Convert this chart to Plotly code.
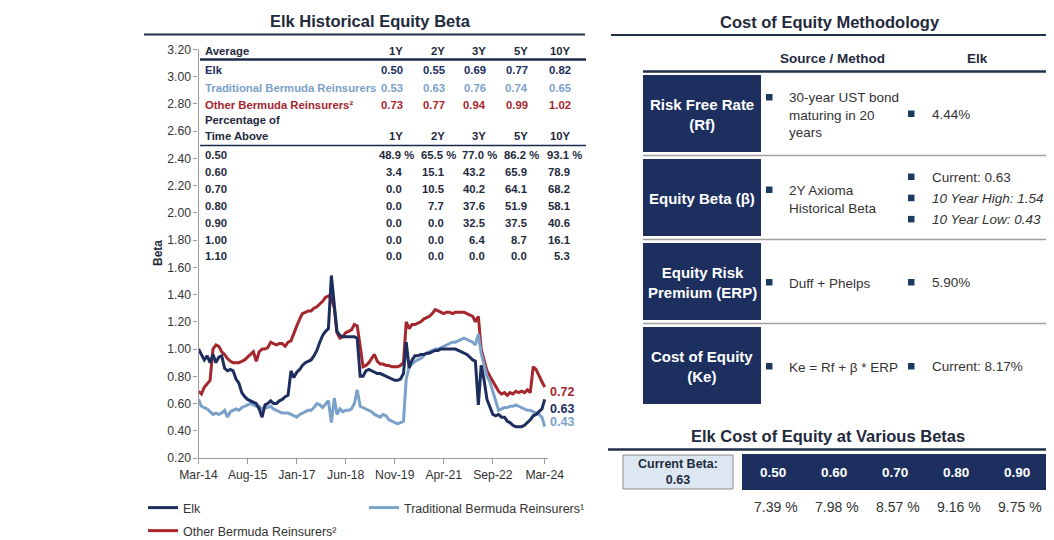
import plotly.graph_objects as go
import pandas as pd

# page is 1054x540; the browser puts the figure 8px in from the top-left corner
W, H = 1054, 540
OFF = 8
FW, FH = W - OFF, H - OFF
FONT = "Liberation Sans, Arial, sans-serif"

# ---- beta history (monthly, Mar-14 .. Mar-24) ----
dates = pd.date_range("2014-03-01", periods=121, freq="MS")

elk = [
    1.00, 0.96, 0.92, 0.95, 0.90, 0.96, 0.90, 0.94, 0.95, 0.86, 0.84, 0.85,
    0.84, 0.78, 0.75, 0.68, 0.65, 0.63, 0.62, 0.61, 0.60, 0.56, 0.50, 0.59,
    0.60, 0.62, 0.60, 0.60, 0.62, 0.63, 0.65, 0.66, 0.84, 0.79, 0.83, 0.85,
    0.88, 0.90, 0.91, 0.92, 0.95, 0.99, 1.05, 1.10, 1.13, 1.15, 1.54, 1.30,
    1.13, 1.10, 1.09, 1.09, 1.09, 1.09, 1.09, 1.08, 0.80, 0.80, 0.84, 0.85,
    0.84, 0.83, 0.82, 0.82, 0.81, 0.80, 0.79, 0.78, 0.77, 0.77, 0.78, 0.82,
    1.05, 0.86, 0.92, 0.95, 0.95, 0.96, 0.96, 0.97, 0.97, 0.98, 0.99, 0.99,
    1.00, 1.00, 1.00, 1.00, 1.00, 1.00, 0.99, 0.98, 0.97, 0.96, 0.94, 0.92,
    0.91, 0.59, 0.88, 0.77, 0.63, 0.58, 0.52, 0.51, 0.52, 0.50, 0.50, 0.47,
    0.46, 0.44, 0.43, 0.43, 0.43, 0.44, 0.46, 0.48, 0.51, 0.52, 0.54, 0.56,
    0.63,
]

trad = [
    0.63, 0.58, 0.57, 0.56, 0.54, 0.52, 0.53, 0.52, 0.53, 0.55, 0.50, 0.54,
    0.55, 0.56, 0.55, 0.57, 0.58, 0.59, 0.60, 0.59, 0.58, 0.58, 0.56, 0.57,
    0.57, 0.58, 0.56, 0.55, 0.54, 0.53, 0.53, 0.53, 0.52, 0.51, 0.50, 0.52,
    0.53, 0.54, 0.55, 0.55, 0.57, 0.60, 0.59, 0.57, 0.60, 0.62, 0.46, 0.64,
    0.52, 0.56, 0.54, 0.55, 0.55, 0.56, 0.60, 0.70, 0.58, 0.57, 0.56, 0.55,
    0.54, 0.52, 0.51, 0.50, 0.52, 0.51, 0.48, 0.47, 0.46, 0.45, 0.46, 0.47,
    0.78, 0.87, 0.89, 0.91, 0.92, 0.93, 0.95, 0.97, 0.98, 0.99, 1.00, 1.00,
    1.01, 1.02, 1.03, 1.04, 1.05, 1.05, 1.06, 1.07, 1.08, 1.07, 1.06, 1.05,
    1.03, 1.11, 0.97, 0.89, 0.80, 0.76, 0.68, 0.62, 0.55, 0.56, 0.57, 0.57,
    0.58, 0.58, 0.59, 0.58, 0.57, 0.56, 0.55, 0.55, 0.54, 0.53, 0.52, 0.50,
    0.43,
]

other = [
    0.69, 0.67, 0.72, 0.75, 0.77, 1.00, 1.03, 1.02, 0.98, 0.96, 0.93, 0.91,
    0.90, 0.90, 0.90, 0.91, 0.92, 0.94, 0.96, 0.98, 0.91, 0.98, 1.00, 1.00,
    1.01, 1.05, 1.04, 1.03, 1.04, 1.04, 1.02, 1.05, 1.06, 1.12, 1.17, 1.22,
    1.26, 1.27, 1.28, 1.28, 1.30, 1.31, 1.33, 1.35, 1.38, 1.39, 1.37, 1.30,
    1.12, 1.08, 1.09, 1.12, 1.13, 1.14, 1.18, 1.17, 1.02, 0.87, 0.88, 0.90,
    0.93, 0.96, 0.91, 0.89, 0.89, 0.88, 0.88, 0.87, 0.87, 0.87, 0.88, 0.90,
    1.20, 1.15, 1.18, 1.18, 1.19, 1.20, 1.22, 1.23, 1.24, 1.26, 1.29, 1.28,
    1.27, 1.26, 1.27, 1.27, 1.26, 1.27, 1.27, 1.27, 1.27, 1.26, 1.25, 1.24,
    1.20, 1.24, 1.00, 0.92, 0.84, 0.80, 0.76, 0.72, 0.69, 0.67, 0.68, 0.66,
    0.68, 0.67, 0.69, 0.68, 0.69, 0.68, 0.70, 0.68, 0.87, 0.85, 0.80, 0.76,
    0.72,
]

tick_dates = ["2014-03-01", "2015-08-01", "2017-01-01", "2018-06-01",
              "2019-11-01", "2021-04-01", "2022-09-01", "2024-03-01"]
y_ticks = [0.20, 0.40, 0.60, 0.80, 1.00, 1.20, 1.40, 1.60, 1.80, 2.00,
           2.20, 2.40, 2.60, 2.80, 3.00, 3.20]

# ---- table inside the chart ----
periods = ["1Y", "2Y", "3Y", "5Y", "10Y"]
avg_elk = [0.50, 0.55, 0.69, 0.77, 0.82]
avg_trad = [0.53, 0.63, 0.76, 0.74, 0.65]
avg_other = [0.73, 0.77, 0.94, 0.99, 1.02]
thresholds = [0.50, 0.60, 0.70, 0.80, 0.90, 1.00, 1.10]
pct_above = [
    [48.9, 65.5, 77.0, 86.2, 93.1],
    [3.4, 15.1, 43.2, 65.9, 78.9],
    [0.0, 10.5, 40.2, 64.1, 68.2],
    [0.0, 7.7, 37.6, 51.9, 58.1],
    [0.0, 0.0, 32.5, 37.5, 40.6],
    [0.0, 0.0, 6.4, 8.7, 16.1],
    [0.0, 0.0, 0.0, 0.0, 5.3],
]

# ---- methodology panel ----
method_names = ["Risk Free Rate<br>(Rf)", "Equity Beta (β)",
                "Equity Risk<br>Premium (ERP)", "Cost of Equity<br>(Ke)"]
method_sources = ["30-year UST bond<br>maturing in 20<br>years",
                  "2Y Axioma<br>Historical Beta",
                  "Duff + Phelps",
                  "Ke = Rf + β * ERP"]
method_elk = [["4.44%"],
              ["Current: 0.63", "<i>10 Year High: 1.54</i>", "<i>10 Year Low: 0.43</i>"],
              ["5.90%"],
              ["Current: 8.17%"]]

current_beta = 0.63
sens_betas = [0.50, 0.60, 0.70, 0.80, 0.90]
sens_coe = [7.39, 7.98, 8.57, 9.16, 9.75]

C_ELK = "#1c2d5e"
C_TRAD = "#7ba1cb"
C_OTHER = "#a5262d"
C_NAVY = "#1c2f5e"
C_TXT = "#1f2a3c"
C_GRAY = "#333333"


def fx(px):
    return (px - OFF) / FW


def fy(py):
    return 1 - (py - OFF) / FH


fig = go.Figure()
fig.add_trace(go.Scatter(x=dates, y=other, mode="lines", name="Other Bermuda Reinsurers²",
                         line=dict(color=C_OTHER, width=3), legend="legend3", showlegend=True))
fig.add_trace(go.Scatter(x=dates, y=trad, mode="lines", name="Traditional Bermuda Reinsurers¹",
                         line=dict(color=C_TRAD, width=3), legend="legend2", showlegend=True))
fig.add_trace(go.Scatter(x=dates, y=elk, mode="lines", name="Elk",
                         line=dict(color=C_ELK, width=3), legend="legend", showlegend=True))

ann = []
shapes = []


def text(x, y, s, size=12, color=C_TXT, bold=False, xanchor="center", yanchor="middle", align="center", **kw):
    if bold:
        s = "<b>" + s.replace("<br>", "</b><br><b>") + "</b>"
    ann.append(dict(x=fx(x), y=fy(y), xref="paper", yref="paper", text=s, showarrow=False,
                    xanchor=xanchor, yanchor=yanchor, align=align,
                    font=dict(family=FONT, size=size, color=color), **kw))


def hline(x0, x1, y, color, width):
    shapes.append(dict(type="line", xref="paper", yref="paper", x0=fx(x0), x1=fx(x1),
                       y0=fy(y), y1=fy(y), line=dict(color=color, width=width)))


def rect(x0, y0, x1, y1, fill, line_color=None, line_width=0):
    shapes.append(dict(type="rect", xref="paper", yref="paper", x0=fx(x0), x1=fx(x1),
                       y0=fy(y1), y1=fy(y0), fillcolor=fill,
                       line=dict(color=line_color or fill, width=line_width)))


# titles
text(370, 21, "Elk Historical Equity Beta", size=16.5, color=C_TXT, bold=True)
hline(144, 585, 34.5, "#1f3048", 2.2)
text(830, 22, "Cost of Equity Methodology", size=16.5, color=C_TXT, bold=True)
hline(611, 1050, 35, "#1f3048", 2.2)

# chart-end labels (yshift: positive = up)
for series, col, dy in [(other, C_OTHER, -5), (elk, C_ELK, -10), (trad, C_TRAD, 5)]:
    ann.append(dict(x=dates[-1], y=series[-1], xref="x", yref="y", text=f"<b>{series[-1]:.2f}</b>",
                    showarrow=False, xanchor="left", yanchor="middle", xshift=3, yshift=dy,
                    font=dict(family=FONT, size=12.5, color=col)))

# "Beta" axis label
ann.append(dict(x=fx(149), y=fy(253), xref="paper", yref="paper", text="<b>Beta</b>", showarrow=False,
                textangle=-90, font=dict(family=FONT, size=12, color=C_TXT)))

# table inside chart
TS = 11.3
col_r = [405, 447, 488, 530, 573]
text(203, 51, "Average", size=TS, bold=True, xanchor="left")
for p, xr in zip(periods, col_r):
    text(xr, 51, p, size=TS, bold=True, xanchor="right")
hline(200, 586, 59.5, "#1b2a48", 2.6)
rows = [("Elk", avg_elk, C_ELK, 70), ("Traditional Bermuda Reinsurers", avg_trad, C_TRAD, 87.5),
        ("Other Bermuda Reinsurers²", avg_other, C_OTHER, 105)]
for label, vals, col, y in rows:
    text(203, y, label, size=TS, color=col, bold=True, xanchor="left")
    for v, xr in zip(vals, col_r):
        text(xr, y, f"{v:.2f}", size=TS, color=col, bold=True, xanchor="right")
text(203, 120, "Percentage of", size=TS, bold=True, xanchor="left")
text(203, 136, "Time Above", size=TS, bold=True, xanchor="left")
for p, xr in zip(periods, col_r):
    text(xr, 136, p, size=TS, bold=True, xanchor="right")
hline(200, 586, 145.5, "#1b2a48", 1.6)
for i, (th, vals) in enumerate(zip(thresholds, pct_above)):
    y = 155 + i * 16.9
    text(203, y, f"{th:.2f}", size=TS, bold=True, xanchor="left")
    for v, xr in zip(vals, col_r):
        if i == 0:
            text(xr + 11, y, f"{v:.1f} %", size=TS, bold=True, xanchor="right")
        else:
            text(xr - 1, y, f"{v:.1f}", size=TS, bold=True, xanchor="right")

# methodology panel
text(832, 59, "Source / Method", size=13.5, bold=True)
text(977, 59, "Elk", size=13.5, bold=True)
hline(643, 1050, 71.5, "#1f3048", 2.4)
row_tops = [75, 159, 243, 327]
src_first = [97.5, 190, 282.5, 366.5]
elk_first = [114, 177, 282.5, 366.5]
for k, top in enumerate(row_tops):
    rect(643, top, 761, top + 77, C_NAVY)
    text(702, top + 39, method_names[k], size=15, color="white", bold=True)
    if k < 3:
        hline(643, 1050, top + 80.5, "#a0a0a0", 1.5)
    # source bullet + text
    rect(766, src_first[k] - 3.5, 772.5, src_first[k] + 3, "#1f3a60")
    text(787, src_first[k] - 9, method_sources[k], size=13.5, color=C_GRAY,
         xanchor="left", yanchor="top", align="left")
    for j, s in enumerate(method_elk[k]):
        yy = elk_first[k] + j * 21.2
        rect(908, yy - 3.5, 914.5, yy + 3, "#1f3a60")
        text(930, yy, s, size=13.5, color=C_GRAY, xanchor="left")

# cost of equity at various betas
text(828, 436, "Elk Cost of Equity at Various Betas", size=16.5, color=C_TXT, bold=True)
hline(608, 1047, 449.5, "#1f3048", 2.4)
rect(623, 455, 733, 489, "#dde7f2", "#8a8a8a", 1)
text(678, 472, f"Current Beta:<br>{current_beta:.2f}", size=12.5, color=C_TXT, bold=True)
rect(742, 454, 1047, 490, C_NAVY)
for i, (b, c) in enumerate(zip(sens_betas, sens_coe)):
    text(772.5 + 61 * i, 472, f"{b:.2f}", size=13.5, color="white", bold=True)
    text(799.5 + 61 * i, 507, f"{c:.2f} %", size=14, color=C_GRAY, xanchor="right")

legend_common = dict(orientation="h", xanchor="left", yanchor="middle", bgcolor="rgba(0,0,0,0)",
                     font=dict(family=FONT, size=12.5, color=C_GRAY), itemwidth=30, borderwidth=0)

fig.update_layout(
    width=FW, height=FH,
    margin=dict(l=0, r=0, t=0, b=0, autoexpand=False),
    showlegend=True,
    paper_bgcolor="white", plot_bgcolor="white",
    font=dict(family=FONT, size=12, color=C_GRAY),
    xaxis=dict(domain=[fx(198.5), fx(548)], type="date",
               range=["2014-03-01", "2024-04-05"],
               tickvals=tick_dates, tickformat="%b-%y",
               showline=True, linecolor="#9a9a9a", linewidth=1.2,
               ticks="outside", ticklen=5, tickcolor="#9a9a9a",
               showgrid=False, zeroline=False,
               tickfont=dict(family=FONT, size=12.2, color=C_GRAY)),
    yaxis=dict(domain=[fy(458), fy(49.4)], range=[0.2, 3.2],
               tickvals=y_ticks, tickformat=".2f",
               showline=True, linecolor="#9a9a9a", linewidth=1.2,
               ticks="outside", ticklen=4, tickcolor="#9a9a9a",
               showgrid=False, zeroline=False,
               tickfont=dict(family=FONT, size=12.2, color=C_GRAY)),
    legend=dict(x=fx(143), y=fy(508), **legend_common),
    legend2=dict(x=fx(364), y=fy(508), **legend_common),
    legend3=dict(x=fx(143), y=fy(531), **legend_common),
    annotations=ann,
    shapes=shapes,
)

fig.write_html("out.html")
